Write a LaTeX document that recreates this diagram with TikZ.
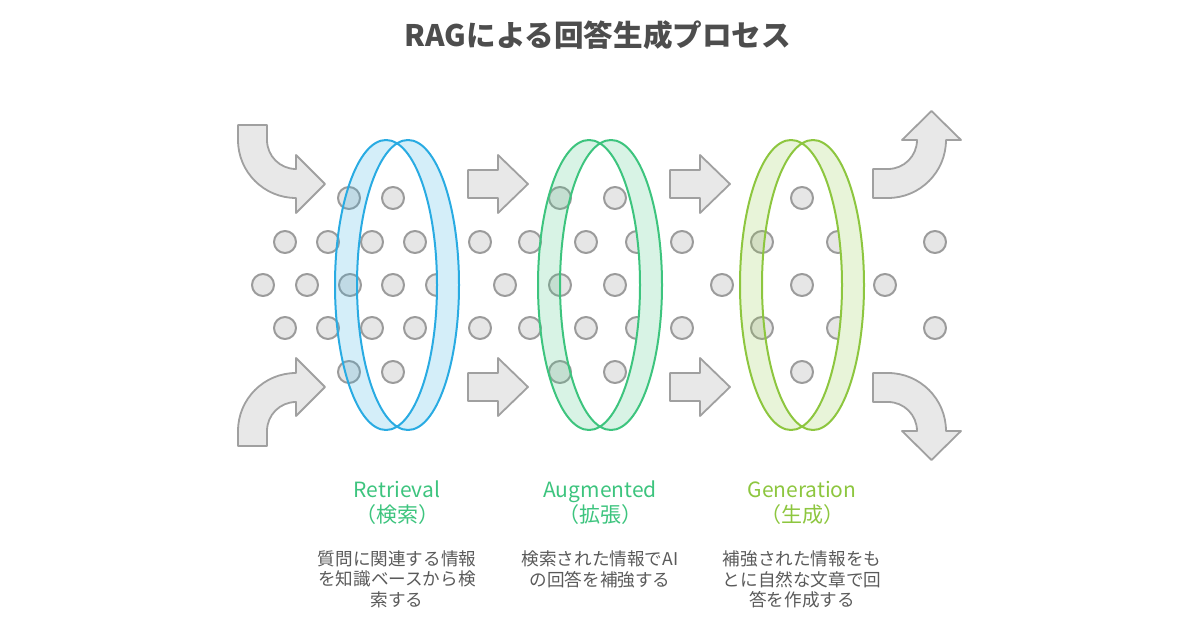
\documentclass[tikz,border=0pt]{standalone}
\usepackage{fontspec}
\setmainfont{Noto Sans CJK JP}

\definecolor{titlegray}{RGB}{77,77,77}
\definecolor{notegray}{RGB}{90,90,90}
\definecolor{dotfill}{RGB}{230,230,230}
\definecolor{dotline}{RGB}{155,155,155}
\definecolor{arrowfill}{RGB}{232,232,232}
\definecolor{arrowline}{RGB}{160,160,160}
\definecolor{ringblue}{RGB}{41,171,226}
\definecolor{ringgreen}{RGB}{61,196,126}
\definecolor{ringlime}{RGB}{141,198,63}

\tikzset{
  datadot/.style={circle, draw=dotline, fill=dotfill, line width=1pt, minimum size=11pt, inner sep=0pt},
  flowarrow/.style={draw=arrowline, fill=arrowfill, line width=0.9pt, line join=round},
  phaselabel/.style={font=\fontsize{10.5}{12.5}\selectfont, align=center, inner sep=0pt},
  phasenote/.style={font=\fontsize{8.8}{10.4}\selectfont, text=notegray, align=center, inner sep=0pt, anchor=north},
}

\begin{document}
\begin{tikzpicture}[x=1pt, y=1pt, yscale=-1, scale=0.5, line cap=round, line join=round]
	\useasboundingbox (0,0) rectangle (1200,630);
	% title
	\node[font=\bfseries\fontsize{14.8}{16}\selectfont, text=titlegray] (title) at (598,35) {RAGによる回答生成プロセス};
	% curved arrows in
	\draw[flowarrow] (238,125) -- (267,125) -- (267,140) arc[start angle=180, end angle=90, radius=29pt] -- (296,155) -- (325,184) -- (296,213) -- (296,198) arc[start angle=90, end angle=180, radius=58pt] -- cycle;
	\draw[flowarrow] (238,446) -- (267,446) -- (267,431) arc[start angle=180, end angle=270, radius=29pt] -- (296,416) -- (325,387) -- (296,358) -- (296,373) arc[start angle=270, end angle=180, radius=58pt] -- cycle;
	% straight arrows
	\foreach \ax in {468,670}{
		\draw[flowarrow] (\ax,170) -- (\ax+30,170) -- (\ax+30,155) -- (\ax+60,184) -- (\ax+30,213) -- (\ax+30,198) -- (\ax,198) -- cycle;
		\draw[flowarrow] (\ax,373) -- (\ax+30,373) -- (\ax+30,358) -- (\ax+60,387) -- (\ax+30,416) -- (\ax+30,401) -- (\ax,401) -- cycle;
	}
	% curved arrows out
	\draw[flowarrow] (873,169) -- (888,169) arc[start angle=90, end angle=0, radius=29pt] -- (902,140) -- (931.5,111) -- (961,140) -- (946,140) arc[start angle=0, end angle=90, radius=58pt] -- (873,198) -- cycle;
	\draw[flowarrow] (873,402) -- (888,402) arc[start angle=270, end angle=360, radius=29pt] -- (902,431) -- (931.5,460) -- (961,431) -- (946,431) arc[start angle=0, end angle=-90, radius=58pt] -- (873,373) -- cycle;
	% data dots
	\foreach \x/\y [count=\i] in {
		349/198, 393/198, 560/198, 615/198, 802/198,
		285/242, 328/242, 372/242, 415/242, 480/242, 530/242, 586/242, 637/242, 682/242, 762/242, 838/242, 935/242,
		263/285, 307/285, 350/285, 393/285, 437/285, 505/285, 560/285, 615/285, 722/285, 802/285, 885/285,
		285/328, 328/328, 372/328, 415/328, 480/328, 530/328, 586/328, 637/328, 682/328, 762/328, 838/328, 935/328,
		349/372, 393/372, 560/372, 615/372, 802/372}
		\node[datadot] (dot\i) at (\x,\y) {};
	% rings
	\foreach \cx/\col in {397/ringblue, 600/ringgreen, 802/ringlime}{
		\begin{scope}
			\clip (\cx-80,120) rectangle (\cx,450);
			\fill[\col, fill opacity=0.2, even odd rule] (\cx-11,285) ellipse[x radius=51pt, y radius=145pt] (\cx+11,285) ellipse[x radius=51pt, y radius=145pt];
		\end{scope}
		\begin{scope}
			\clip (\cx,120) rectangle (\cx+80,450);
			\fill[fill=\col!20!white, even odd rule] (\cx-11,285) ellipse[x radius=51pt, y radius=145pt] (\cx+11,285) ellipse[x radius=51pt, y radius=145pt];
		\end{scope}
		\draw[\col, line width=1pt] (\cx-11,285) ellipse[x radius=51pt, y radius=145pt] (\cx+11,285) ellipse[x radius=51pt, y radius=145pt];
	}
	% labels
	\node[phaselabel, text=ringgreen] (retrieval) at (397,503) {Retrieval\\（検索）};
	\node[phaselabel, text=ringgreen] (augmented) at (600,503) {Augmented\\（拡張）};
	\node[phaselabel, text=ringlime] (generation) at (802,503) {Generation\\（生成）};
	% notes
	\node[phasenote] (retrievalnote) at (397,550) {質問に関連する情報\\を知識ベースから検\\索する};
	\node[phasenote] (augmentednote) at (600,550) {検索された情報でAI\\の回答を補強する};
	\node[phasenote] (generationnote) at (802,550) {補強された情報をも\\とに自然な文章で回\\答を作成する};
\end{tikzpicture}
\end{document}
